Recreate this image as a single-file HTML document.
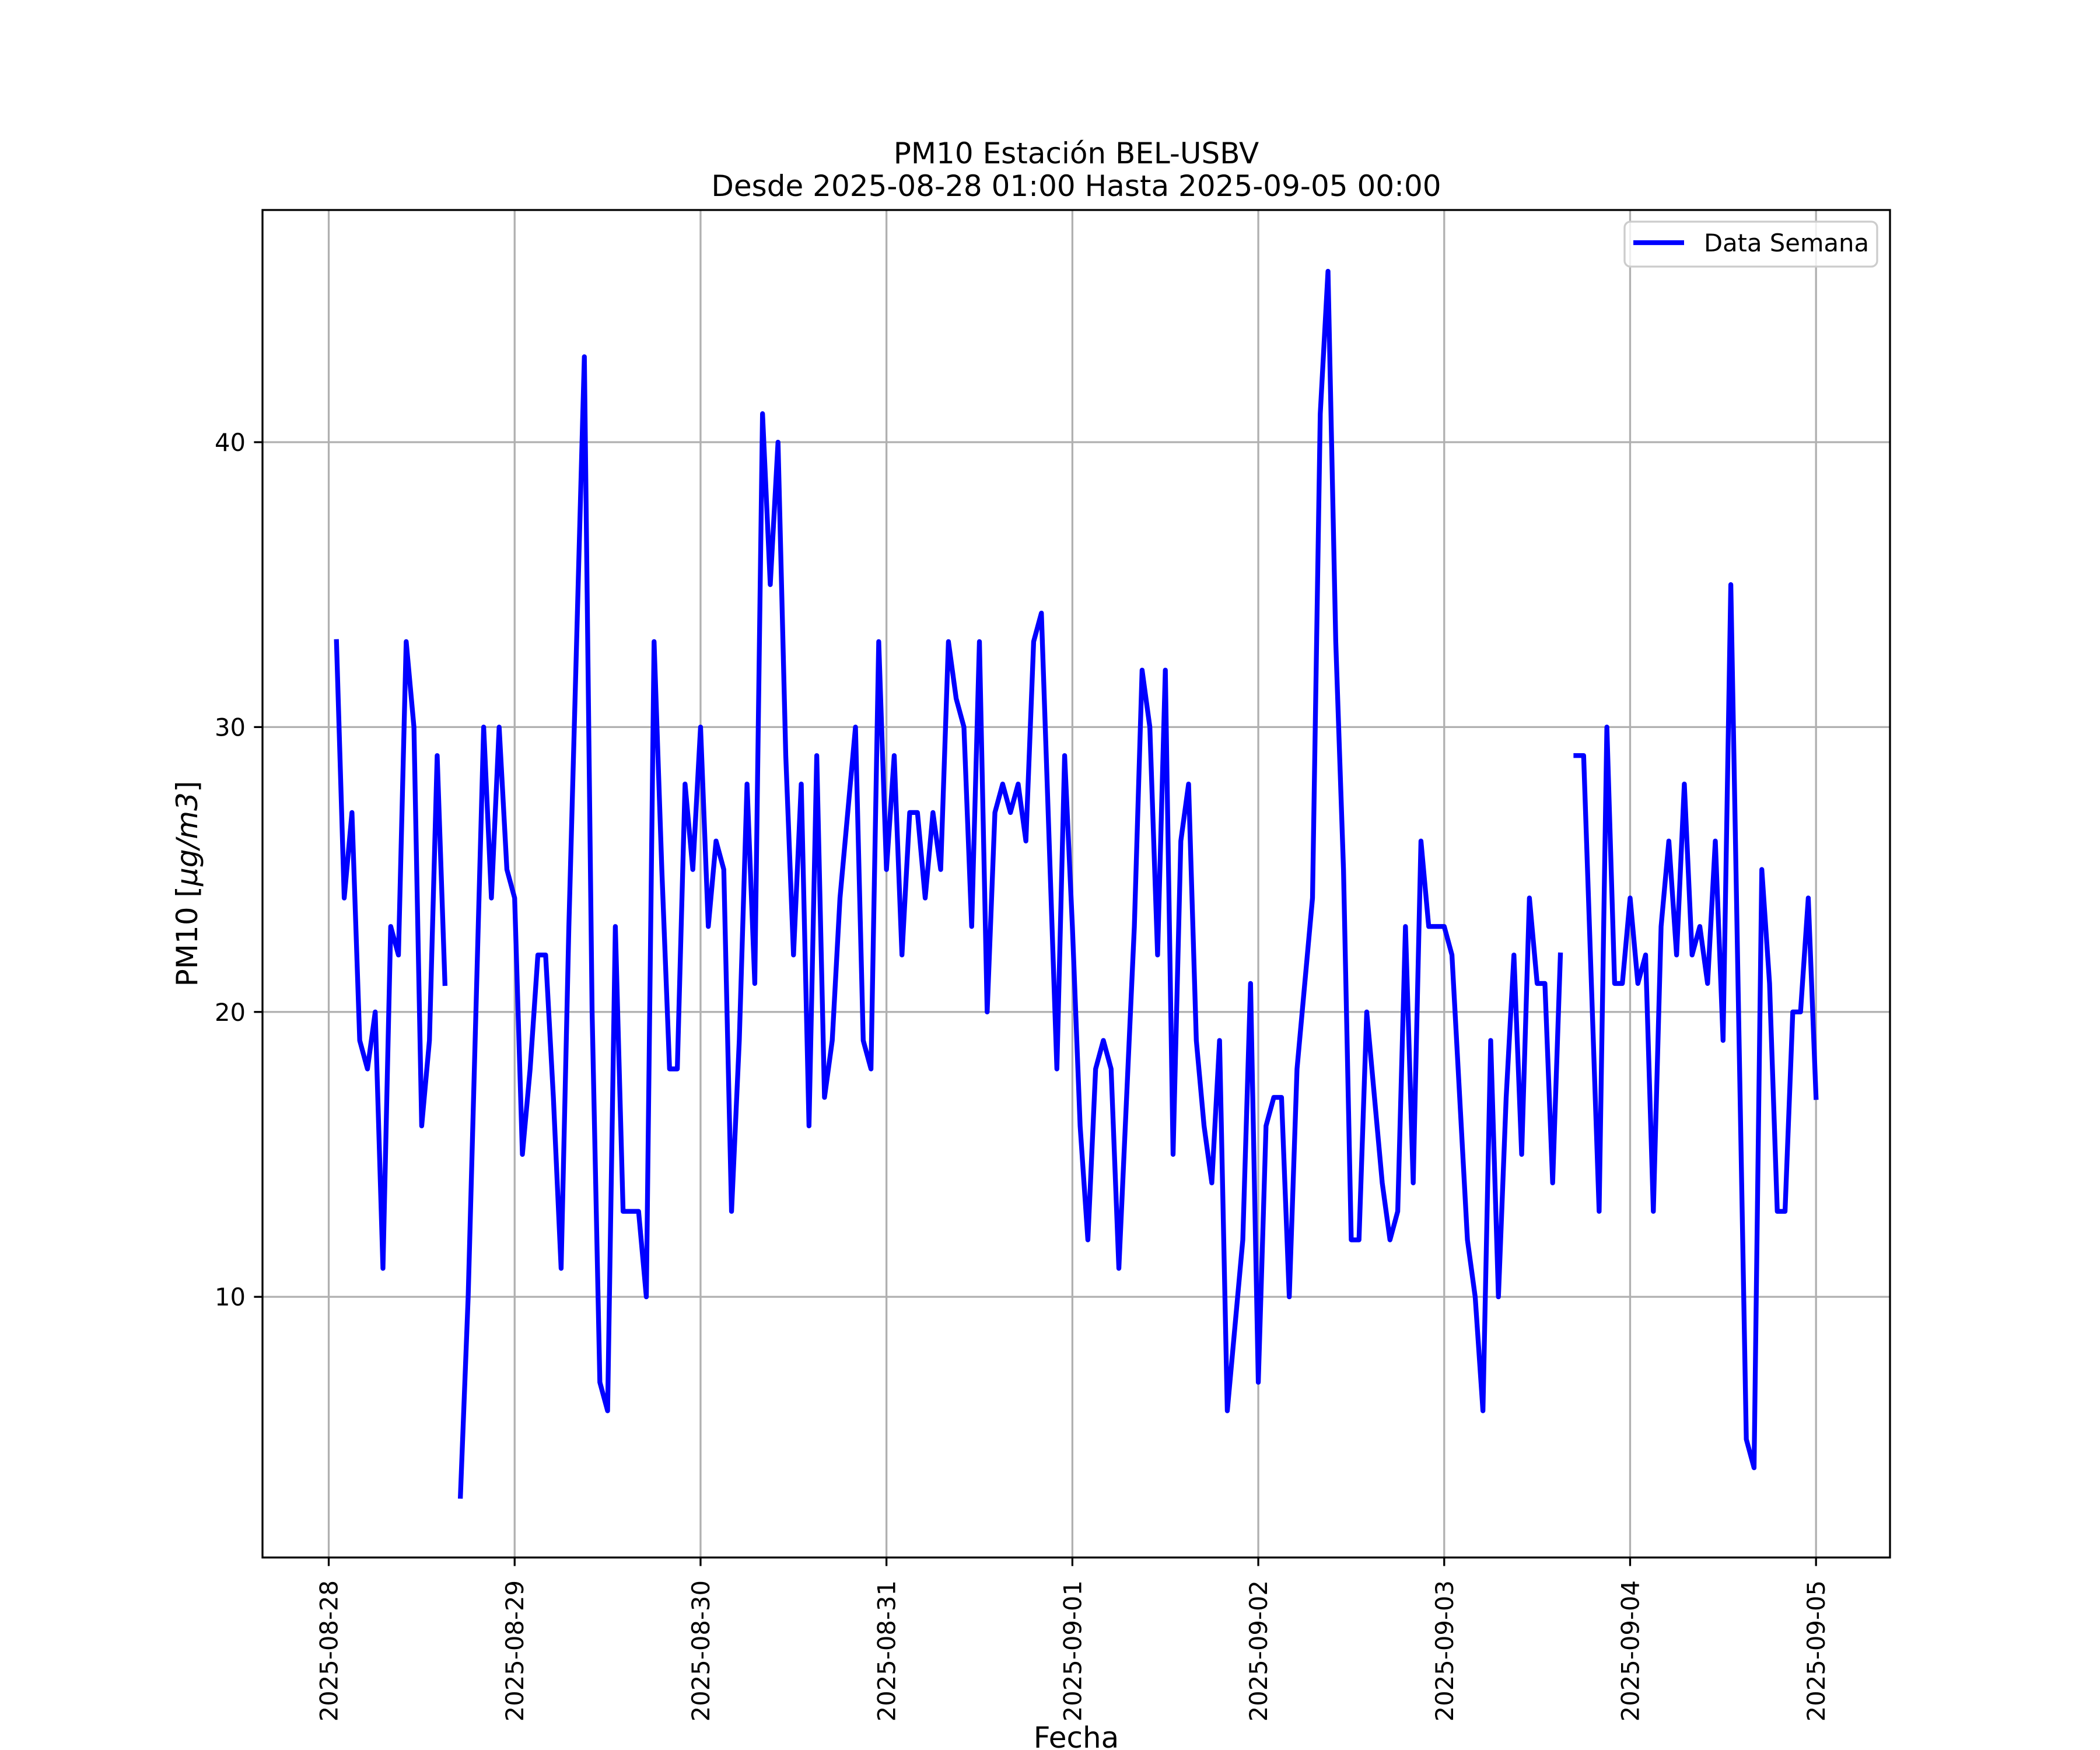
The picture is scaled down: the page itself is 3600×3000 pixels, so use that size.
<!DOCTYPE html>
<html>
<head>
<meta charset="utf-8">
<style>
html,body{margin:0;padding:0;background:#fff;}
svg{display:block;font-family:"DejaVu Sans","Liberation Sans",sans-serif;}
</style>
</head>
<body>
<svg id="chart" xmlns="http://www.w3.org/2000/svg" width="3600" height="3000" viewBox="0 0 3600 3000">
  <rect x="0" y="0" width="3600" height="3000" fill="#fff"/>
  <rect x="450" y="360" width="2790" height="2310" fill="#fff"/>
  <g id="grid"></g>
  <g id="series"></g>
  <g id="axes"></g>
  <text x="1845" y="280" font-size="50" text-anchor="middle">PM10 Estación BEL-USBV</text>
  <text x="1845" y="336" font-size="50" text-anchor="middle">Desde 2025-08-28 01:00 Hasta 2025-09-05 00:00</text>
  <text x="1845" y="2996" font-size="50" text-anchor="middle">Fecha</text>
  <text transform="translate(338,1515) rotate(-90)" font-size="50" text-anchor="middle">PM10 [<tspan font-style="italic">μg/m3</tspan>]</text>
  <g>
    <rect x="2785" y="380" width="433" height="77" rx="10" fill="#fff" fill-opacity="0.8" stroke="#cccccc" stroke-width="3.3"/>
    <line x1="2800" y1="416" x2="2887" y2="416" stroke="#0000ff" stroke-width="8.3"/>
    <text x="2921" y="431" font-size="41.7">Data Semana</text>
  </g>
</svg>
<script>
const hours = Array.from({length:192}, (_, i) => i + 1);
const pm10 = [
33,24,27,19,18,20,11,23,22,33,30,16,19,29,21,null,3,10,20,30,24,30,25,24,
15,18,22,22,17,11,23,33,43,20,7,6,23,13,13,13,10,33,25,18,18,28,25,30,
23,26,25,13,19,28,21,41,35,40,29,22,28,16,29,17,19,24,27,30,19,18,33,25,
29,22,27,27,24,27,25,33,31,30,23,33,20,27,28,27,28,26,33,34,26,18,29,23,
16,12,18,19,18,11,17,23,32,30,22,32,15,26,28,19,16,14,19,6,9,12,21,7,
16,17,17,10,18,21,24,41,46,33,25,12,12,20,17,14,12,13,23,14,26,23,23,23,
22,17,12,10,6,19,10,17,22,15,24,21,21,14,22,null,29,29,21,13,30,21,21,24,
21,22,13,23,26,22,28,22,23,21,26,19,35,20,5,4,25,21,13,13,20,20,24,17
];
const xTickLabels = ["2025-08-28","2025-08-29","2025-08-30","2025-08-31","2025-09-01","2025-09-02","2025-09-03","2025-09-04","2025-09-05"];
const xTickHours = [0,24,48,72,96,120,144,168,192];
const yTicks = [10,20,30,40];

const NS = "http://www.w3.org/2000/svg";
const L = 450, R = 3240, T = 360, B = 2670;
const vals = pm10.filter(v => v !== null);
const hMin = Math.min(...hours), hMax = Math.max(...hours);
const vMin = Math.min(...vals), vMax = Math.max(...vals);
const x0 = hMin - 0.05*(hMax-hMin), x1 = hMax + 0.05*(hMax-hMin);
const y0 = vMin - 0.05*(vMax-vMin), y1 = vMax + 0.05*(vMax-vMin);
function xScale(h){ return L + (h - x0)/(x1 - x0)*(R - L); }
function yScale(v){ return B - (v - y0)/(y1 - y0)*(B - T); }
function mk(tag, attrs){ const e = document.createElementNS(NS, tag); for (const k in attrs) e.setAttribute(k, attrs[k]); return e; }

const grid = document.getElementById('grid');
const axes = document.getElementById('axes');
const series = document.getElementById('series');

xTickHours.forEach((h, i) => {
  const x = xScale(h);
  const g = mk('line', {x1:x, y1:T, x2:x, y2:B, stroke:'#b0b0b0', 'stroke-width':3.3});
  
  
  grid.appendChild(g);
  const t = mk('line', {x1:x, y1:B, x2:x, y2:B+14.6, stroke:'#000', 'stroke-width':3.3});
  
  
  axes.appendChild(t);
  const lb = mk('text', {transform:`translate(${x+15},2709) rotate(-90)`, 'font-size':41.7, 'text-anchor':'end'});
  lb.textContent = xTickLabels[i];
  
  
  axes.appendChild(lb);
});
yTicks.forEach(v => {
  const y = yScale(v);
  const g = mk('line', {x1:L, y1:y, x2:R, y2:y, stroke:'#b0b0b0', 'stroke-width':3.3});
  
  
  grid.appendChild(g);
  const t = mk('line', {x1:L-14.6, y1:y, x2:L, y2:y, stroke:'#000', 'stroke-width':3.3});
  
  
  axes.appendChild(t);
  const lb = mk('text', {x:L-29, y:y+15, 'font-size':41.7, 'text-anchor':'end'});
  lb.textContent = String(v);
  
  
  axes.appendChild(lb);
});
const frame = mk('rect', {x:L, y:T, width:R-L, height:B-T, fill:'none', stroke:'#000', 'stroke-width':3.3});


axes.appendChild(frame);

let d = '', pen = false;
hours.forEach((h, i) => {
  const v = pm10[i];
  if (v === null) { pen = false; return; }
  d += (pen ? 'L' : 'M') + xScale(h).toFixed(2) + ' ' + yScale(v).toFixed(2) + ' ';
  pen = true;
});
const path = mk('path', {d:d, fill:'none', stroke:'#0000ff', 'stroke-width':8.3, 'stroke-linejoin':'round', 'stroke-linecap':'square'});


series.appendChild(path);
</script>
</body>
</html>
